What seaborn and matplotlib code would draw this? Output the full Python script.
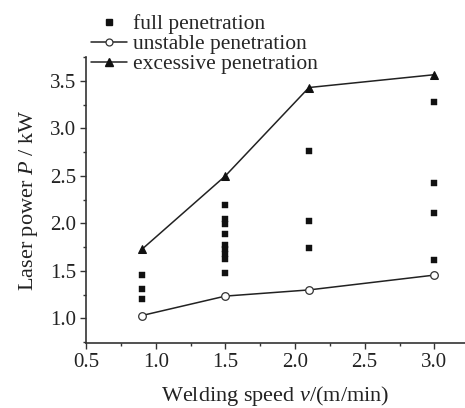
import matplotlib
matplotlib.use("Agg")
import matplotlib.pyplot as plt
import seaborn as sns
import pandas as pd
from matplotlib.ticker import MultipleLocator
from matplotlib.lines import Line2D

# data
speeds = [0.9, 1.5, 2.1, 3.0]
unstable_power = [1.03, 1.235, 1.30, 1.456]
excessive_power = [1.726, 2.50, 3.43, 3.565]
full_speed = [0.9, 0.9, 0.9,
              1.5, 1.5, 1.5, 1.5, 1.5, 1.5, 1.5, 1.5, 1.5,
              2.1, 2.1, 2.1,
              3.0, 3.0, 3.0, 3.0]
full_power = [1.456, 1.305, 1.203,
              2.19, 2.05, 1.99, 1.887, 1.775, 1.726, 1.677, 1.627, 1.48,
              2.76, 2.03, 1.737,
              3.28, 2.42, 2.105, 1.617]
x_ticks = [0.5, 1.0, 1.5, 2.0, 2.5, 3.0]
y_ticks = [1.0, 1.5, 2.0, 2.5, 3.0, 3.5]

sns.set_style("ticks")
plt.rcParams['font.family'] = ['Liberation Serif', 'DejaVu Serif']
plt.rcParams['mathtext.fontset'] = 'custom'
plt.rcParams['mathtext.rm'] = 'Liberation Serif'
plt.rcParams['mathtext.it'] = 'Liberation Serif:italic'

fig = plt.figure(figsize=(4.65, 4.08), dpi=100)
ax = fig.add_axes([0.185, 0.159, 0.815, 0.701])

df_u = pd.DataFrame({"speed": speeds, "power": unstable_power})
df_e = pd.DataFrame({"speed": speeds, "power": excessive_power})
df_f = pd.DataFrame({"speed": full_speed, "power": full_power})

sns.lineplot(data=df_u, x="speed", y="power", ax=ax, color="#222222", lw=1.1,
             marker="o", markersize=5.5, markerfacecolor="white",
             markeredgecolor="#333333", markeredgewidth=0.9)
sns.lineplot(data=df_e, x="speed", y="power", ax=ax, color="#222222", lw=1.1,
             marker="^", markersize=6, markerfacecolor="#111111",
             markeredgecolor="#111111")
sns.scatterplot(data=df_f, x="speed", y="power", ax=ax, marker="s", s=22,
                color="#111111", edgecolor="#111111", linewidth=0.3)

ax.set_xlim(0.5, 3.22)
ax.set_ylim(0.74, 3.75)
ax.set_xticks(x_ticks)
ax.set_yticks(y_ticks)
ax.set_xticklabels([f"{v:.1f}" for v in x_ticks])
ax.set_yticklabels([f"{v:.1f}" for v in y_ticks])
ax.xaxis.set_minor_locator(MultipleLocator(0.25))
ax.yaxis.set_minor_locator(MultipleLocator(0.25))
ax.tick_params(axis='both', which='major', direction='out', length=4, width=1,
               labelsize=15, colors='#333333', labelcolor='#222222', pad=3)
ax.tick_params(axis='both', which='minor', direction='out', length=2.5, width=1,
               colors='#333333')

for s in ["top", "right"]:
    ax.spines[s].set_visible(False)
for s in ["left", "bottom"]:
    ax.spines[s].set_color('#333333')
    ax.spines[s].set_linewidth(1.2)

ax.set_xlabel("Welding speed $v$/(m/min)", fontsize=16, color='#222222', labelpad=9)
ax.set_ylabel("Laser power $P$ / kW", fontsize=16, color='#222222', labelpad=7)

handles = [
    Line2D([], [], ls='none', marker='s', markersize=4.5, color='#111111'),
    Line2D([], [], color='#222222', lw=1.1, marker='o', markersize=5,
           markerfacecolor='white', markeredgecolor='#333333', markeredgewidth=0.9),
    Line2D([], [], color='#222222', lw=1.1, marker='^', markersize=6,
           markerfacecolor='#111111', markeredgecolor='#111111'),
]
labels = ["full penetration", "unstable penetration", "excessive penetration"]
fig.legend(handles, labels, loc='upper left', bbox_to_anchor=(0.195, 0.965),
           frameon=False, fontsize=15.5, handlelength=1.7, handletextpad=0.25,
           labelspacing=0.0, borderaxespad=0, borderpad=0.0)

fig.savefig("out.png", dpi=100)
